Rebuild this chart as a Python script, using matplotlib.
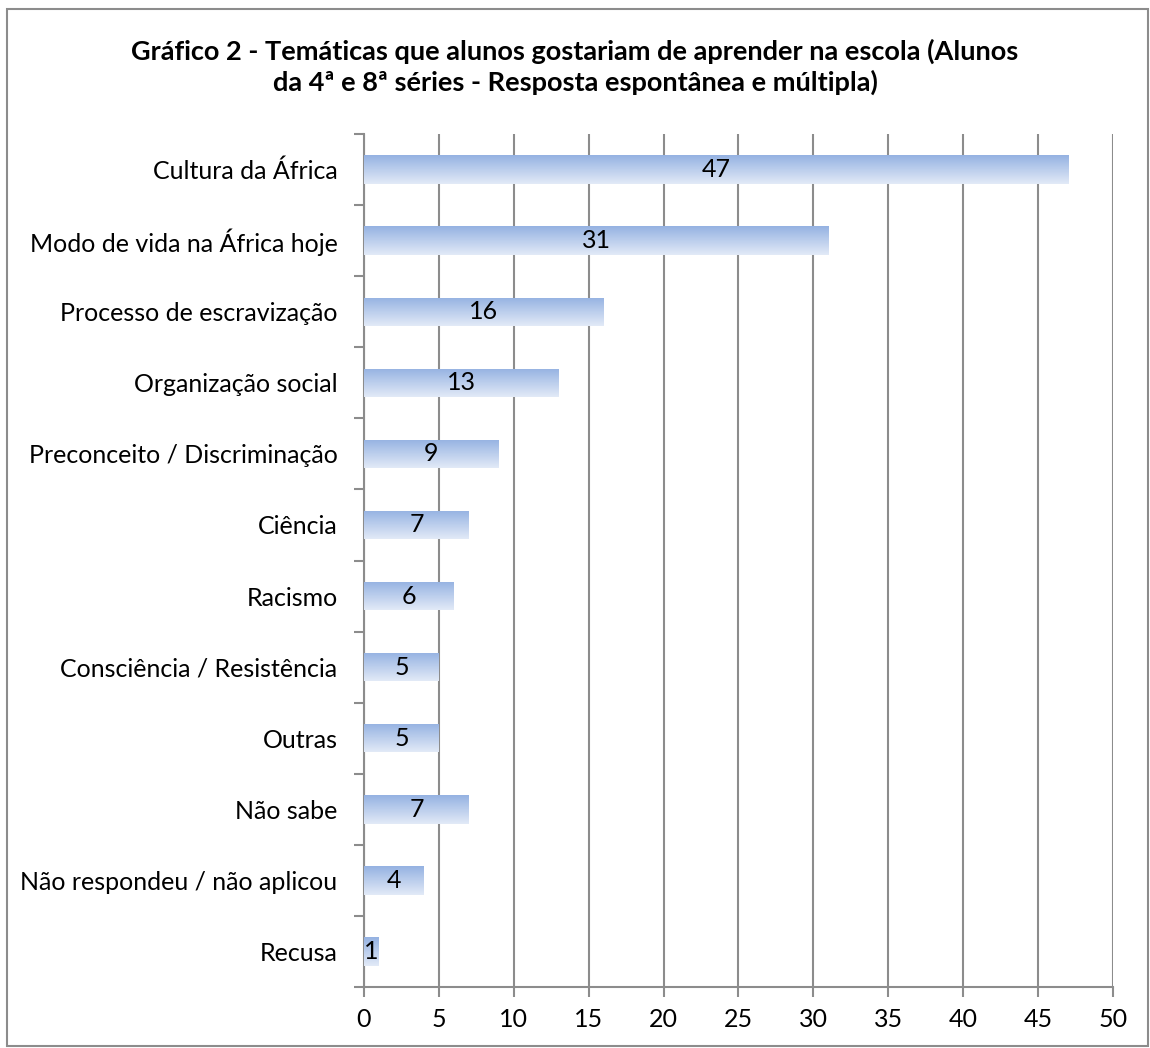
import numpy as np
import matplotlib.pyplot as plt
from matplotlib.colors import LinearSegmentedColormap
from matplotlib.patches import Rectangle

plt.rcParams['font.family'] = ['Lato', 'DejaVu Sans']

categorias = ['Cultura da África', 'Modo de vida na África hoje', 'Processo de escravização',
              'Organização social', 'Preconceito / Discriminação', 'Ciência', 'Racismo',
              'Consciência / Resistência', 'Outras', 'Não sabe',
              'Não respondeu / não aplicou', 'Recusa']
valores = [47, 31, 16, 13, 9, 7, 6, 5, 5, 7, 4, 1]
ticks_x = [0, 5, 10, 15, 20, 25, 30, 35, 40, 45, 50]
titulo = ('Gráfico 2 - Temáticas que alunos gostariam de aprender na escola (Alunos\n'
          'da 4ª e 8ª séries - Resposta espontânea e múltipla)')

fig = plt.figure(figsize=(11.5, 10.48), dpi=100)
fig.patches.append(Rectangle((0.006, 0.002), 0.992, 0.989, transform=fig.transFigure,
                             fill=False, edgecolor='#8c8c8c', linewidth=1.5))
ax = fig.add_axes([0.3165, 0.0582, 0.6513, 0.8139])

grad = LinearSegmentedColormap.from_list('g', ['#95b2e2', '#e2eaf7'])
pos = np.arange(len(categorias))
h = 0.4
bars = ax.barh(pos, valores, height=h, color='none', zorder=3)
for b, v in zip(bars, valores):
    y0 = b.get_y()
    img = ax.imshow(np.linspace(0, 1, 64).reshape(-1, 1), cmap=grad, aspect='auto',
                    extent=(0, v, y0 + h, y0), origin='upper', zorder=3)
    img.set_clip_path(b)
    ax.text(v / 2, b.get_y() + h / 2, str(v), ha='center', va='center',
            fontsize=18, zorder=4)

ax.set_xlim(0, 50)
ax.set_ylim(len(categorias) - 0.5, -0.5)
ax.set_xticks(ticks_x)
ax.set_yticks(pos)
ax.set_yticklabels(categorias)
ax.set_yticks(np.arange(-0.5, len(categorias)), minor=True)
ax.tick_params(axis='y', which='major', length=0, pad=19, labelsize=18)
ax.tick_params(axis='y', which='minor', length=7, width=1.5, color='#8c8c8c')
ax.tick_params(axis='x', length=7, width=1.5, color='#8c8c8c', pad=8, labelsize=18)
ax.grid(axis='x', color='#8c8c8c', linewidth=1.5, zorder=0)
ax.set_axisbelow(True)
for s in ['top', 'right']:
    ax.spines[s].set_visible(False)
for s in ['left', 'bottom']:
    ax.spines[s].set_color('#8c8c8c')
    ax.spines[s].set_linewidth(1.5)

fig.text(0.5, 0.936, titulo, ha='center', va='center', fontsize=19.5,
         fontweight='bold', linespacing=1.25)

fig.savefig('out.png', dpi=100)
